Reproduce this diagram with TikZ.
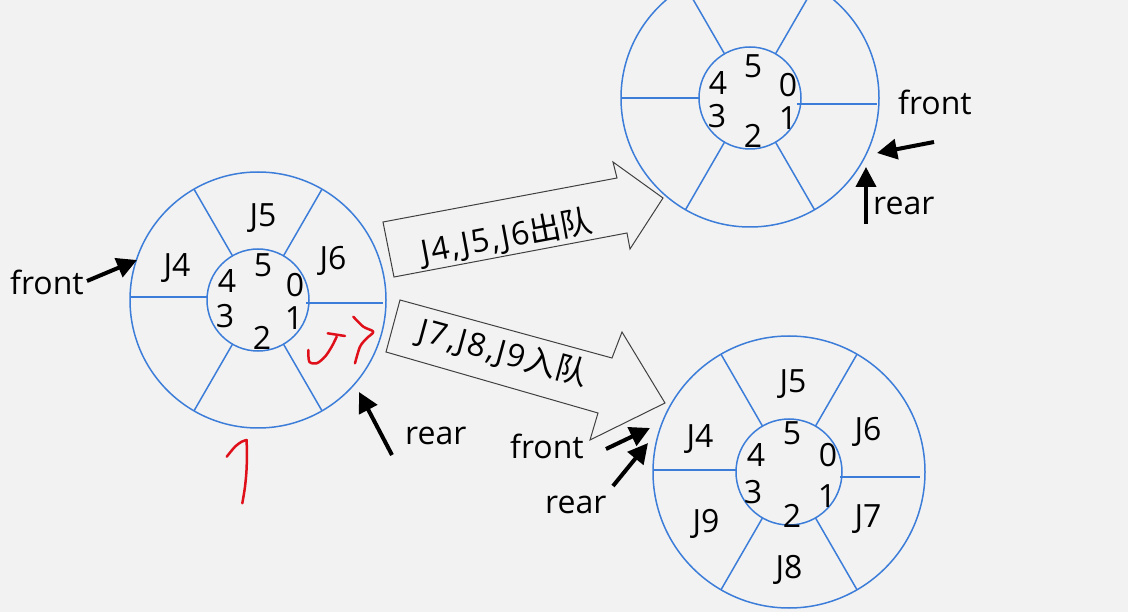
\documentclass[tikz,border=0pt]{standalone}
\usepackage{fontspec}
\setmainfont{Open Sans}
\newfontfamily\spacedfont[LetterSpace=6]{Open Sans}
\newfontfamily\cjk{Noto Sans CJK SC}
\usetikzlibrary{calc,arrows.meta}
\definecolor{bg}{HTML}{F2F2F2}
\definecolor{ringblue}{HTML}{3C7DD9}
\definecolor{outl}{HTML}{404040}
\definecolor{scribred}{HTML}{E0101A}
\begin{document}
\begin{tikzpicture}[x=1pt,y=-1pt,
  ring/.style={ringblue, line width=1.5pt},
  lbl/.style={anchor=base, inner sep=0pt, text=black, font=\fontsize{32}{38}\selectfont},
  ptr/.style={line width=4pt, -{Triangle[length=20pt,width=20pt]}},
  blk/.style={outl, line width=1pt, line join=miter},
  scrib/.style={scribred, line width=2.5pt, line cap=round, line join=round}]
\fill[bg] (0,0) rectangle (1128,612);
\useasboundingbox (0,0) rectangle (1128,612);
\clip (0,0) rectangle (1128,612);

% ---------- left ring ----------
\coordinate (L) at (258,300);
\draw[ring] (L) circle[radius=128];
\draw[ring] (L) circle[radius=51];
\foreach \a in {60,120,240,300} \draw[ring] ($(L)+(\a:51)$) -- ($(L)+(\a:128)$);
\draw[ring] (130,297) -- (208,297);
\draw[ring] (306,303) -- (383,303);
\node[lbl] (LJ5) at (263,227) {J5};
\node[lbl] (LJ4) at (177,277) {J4};
\node[lbl] (LJ6) at (333,270) {J6};
\node[lbl] (L5) at (263,277) {5};
\node[lbl] (L4) at (227,293) {4};
\node[lbl] (L0) at (295,297) {0};
\node[lbl] (L3) at (225,328) {3};
\node[lbl] (L1) at (294,330) {1};
\node[lbl] (L2) at (262,350) {2};

\node[lbl, anchor=base west] (Lfront) at (10,295) {front};
\coordinate (Lft) at (137,260);
\draw[ptr] (87,281) -- (Lft);
\node[lbl, anchor=base west] (Lrear) at (405,445) {rear};
\coordinate (Lrt) at (359,392);
\draw[ptr] (392,455) -- (Lrt);

% red handwriting
\draw[scrib] (327.7,333.3) -- (345,336);
\draw[scrib] plot[smooth] coordinates {(336.7,336.7) (331.7,346.7) (325,356.7) (316.7,363.3) (309.3,361.7) (308.3,350)};
\draw[scrib] plot[smooth] coordinates {(353.3,316.7) (363.3,326.7) (373.3,331.7) (366.7,338.3) (360,346.7) (355,363.3)};
\draw[scrib] plot[smooth] coordinates {(226.7,456.7) (235,446.7) (241.7,441.7) (246.7,440)};
\draw[scrib] plot[smooth] coordinates {(246.7,440) (246.7,466.7) (245,486.7) (242.3,503.3)};

% ---------- top-right ring ----------
\coordinate (T) at (750,98);
\draw[ring] (T) circle[radius=129];
\draw[ring] (T) circle[radius=51];
\foreach \a in {60,120,240,300} \draw[ring] ($(T)+(\a:51)$) -- ($(T)+(\a:129)$);
\draw[ring] (621,98) -- (699,98);
\draw[ring] (797,104) -- (877,104);
\node[lbl] (T5) at (753,78) {5};
\node[lbl] (T4) at (718,95) {4};
\node[lbl] (T0) at (788,97) {0};
\node[lbl] (T3) at (717,128) {3};
\node[lbl] (T1) at (788,130) {1};
\node[lbl] (T2) at (753,148) {2};
\node[lbl, anchor=base west] (Tfront) at (898,115) {front};
\coordinate (Tft) at (877,153);
\draw[ptr] (934,142) -- (Tft);
\node[lbl, anchor=base west] (Trear) at (873,215) {rear};
\coordinate (Trt) at (866,167);
\draw[ptr] (866,224) -- (Trt);

% ---------- bottom-right ring ----------
\coordinate (B) at (789,472);
\draw[ring] (B) circle[radius=136];
\draw[ring] (B) circle[radius=53];
\foreach \a in {60,120,240,300} \draw[ring] ($(B)+(\a:53)$) -- ($(B)+(\a:136)$);
\draw[ring] (653,470) -- (736,470);
\draw[ring] (840,477) -- (920,477);
\node[lbl] (BJ5) at (793,393) {J5};
\node[lbl] (BJ4) at (700,447) {J4};
\node[lbl] (BJ6) at (868,440) {J6};
\node[lbl] (BJ9) at (706,532) {J9};
\node[lbl] (BJ7) at (868,527) {J7};
\node[lbl] (BJ8) at (789,578) {J8};
\node[lbl] (B5) at (792,445) {5};
\node[lbl] (B4) at (756,467) {4};
\node[lbl] (B0) at (828,467) {0};
\node[lbl] (B3) at (753,503) {3};
\node[lbl] (B1) at (827,507) {1};
\node[lbl] (B2) at (792,527) {2};
\node[lbl, anchor=base west] (Bfront) at (510,458) {front};
\coordinate (Bft) at (650,428);
\draw[ptr] (606,449) -- (Bft);
\node[lbl, anchor=base west] (Brear) at (545,513) {rear};
\coordinate (Brt) at (648,443);
\draw[ptr] (613,486) -- (Brt);

% ---------- block arrows ----------
\draw[blk] (383,222) -- (617,178) -- (613,162) -- (663,198) -- (630,249) -- (627,233) -- (394,277) -- cycle;
\node[lbl, anchor=center, rotate=10.6] (deq) at (507,237) {\spacedfont J4,J5,J6{\cjk 出队}};
\draw[blk] (400,300) -- (612,358) -- (622,332) -- (665,403) -- (590,440) -- (598,413) -- (386,352) -- cycle;
\node[lbl, anchor=center, rotate=-15.3] (enq) at (503,353) {\spacedfont J7,J8,J9{\cjk 入队}};
\end{tikzpicture}
\end{document}
